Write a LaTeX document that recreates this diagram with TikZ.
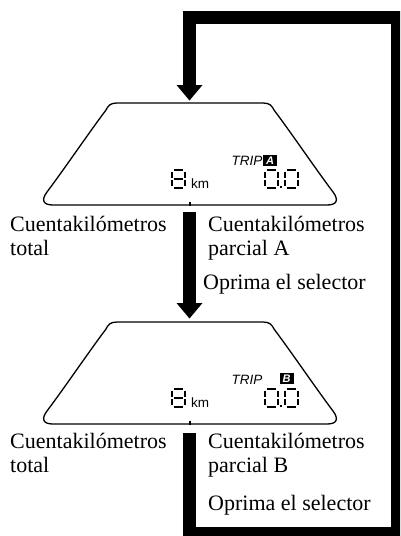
\documentclass[tikz,border=0pt]{standalone}
\usepackage{fontspec}
\setmainfont{Liberation Serif}
\newfontfamily\lcdsans{Liberation Sans}
\newcommand\lcdzero[2]{%
  \draw[seg] (#1+1.7,#2) -- (#1+11.3,#2)
             (#1+1.7,#2+18) -- (#1+11.3,#2+18)
             (#1,#2+1.7) -- (#1,#2+8.1)
             (#1,#2+9.9) -- (#1,#2+16.3)
             (#1+13,#2+1.7) -- (#1+13,#2+8.1)
             (#1+13,#2+9.9) -- (#1+13,#2+16.3);}
\newcommand\lcdeight[2]{%
  \lcdzero{#1}{#2}
  \draw[seg] (#1+1.7,#2+9) -- (#1+11.3,#2+9);}
\newcommand\panelshape[1]{%
  \draw[panel] (117,103+#1) -- (263,103+#1)
    .. controls (270,103+#1) and (272,106+#1) .. (274,110+#1)
    .. controls (292,134+#1) and (315,168+#1) .. (333,192+#1)
    .. controls (339,200+#1) and (337,205+#1) .. (327,205+#1)
    -- (53,205+#1)
    .. controls (43,205+#1) and (41,200+#1) .. (47,192+#1)
    .. controls (65,168+#1) and (88,134+#1) .. (106,110+#1)
    .. controls (108,106+#1) and (110,103+#1) .. (117,103+#1) -- cycle;
  \draw[panel] (190,201.5+#1) -- (190,206+#1);}
\begin{document}
\begin{tikzpicture}[x=1pt,y=-1pt,
  thickline/.style={line width=13pt, line join=miter},
  head/.style={fill=black},
  panel/.style={line width=1.3pt, line join=round},
  seg/.style={line width=1.8pt},
  lbl/.style={anchor=base west, inner sep=0pt, font=\fontsize{22}{24}\selectfont},
  trip/.style={anchor=base west, inner sep=0pt, font=\lcdsans\itshape\fontsize{13.5}{14}\selectfont},
  unit/.style={anchor=base west, inner sep=0pt, font=\lcdsans\fontsize{13.5}{14}\selectfont},
  tripbox/.style={fill=black, text=white, inner sep=0pt, minimum width=14pt, minimum height=11pt, font=\lcdsans\bfseries\itshape\fontsize{11}{11}\selectfont},
]
\useasboundingbox (0,0) rectangle (400,536);
\clip (0,0) rectangle (400,536);

% named points of the connectors
\coordinate (loopstart) at (189.5,433);
\coordinate (loopc1) at (189.5,533.5);
\coordinate (loopc2) at (397.5,533.5);
\coordinate (loopc3) at (397.5,17.5);
\coordinate (loopc4) at (189.5,17.5);
\coordinate (headA) at (189.5,85);
\coordinate (tipA) at (189.5,100.5);
\coordinate (midstart) at (189.5,212);
\coordinate (headB) at (189.5,303);
\coordinate (tipB) at (189.5,318.5);

% display panels
\panelshape{0}
\panelshape{219}

% upper display contents
\lcdeight{172}{170}
\node[unit] (kmA) at (191,188) {km};
\node[trip] (tripA) at (231.5,165) {TRIP};
\node[tripbox] (boxA) at (270,160.5) {A};
\lcdzero{265}{170}
\fill (280,186) rectangle (282.3,188.3);
\lcdzero{285}{170}

% lower display contents
\lcdeight{172}{389}
\node[unit] (kmB) at (191,407) {km};
\node[trip] (tripB) at (231.5,384) {TRIP};
\node[tripbox] (boxB) at (286.5,378.5) {B};
\lcdzero{265}{389}
\fill (280,405) rectangle (282.3,407.3);
\lcdzero{285}{389}

% thick connectors
\draw[thickline] (loopstart) -- (loopc1) -- (loopc2) -- (loopc3) -- (loopc4) -- (headA);
\fill[head] (headA) ++(-13,0) -- ++(26,0) -- (tipA) -- cycle;
\draw[thickline] (midstart) -- (headB);
\fill[head] (headB) ++(-13,0) -- ++(26,0) -- (tipB) -- cycle;

% texts
\node[lbl] (totA1) at (10,231) {Cuentakilómetros};
\node[lbl] (totA2) at (10,255) {total};
\node[lbl] (parA1) at (208,231) {Cuentakilómetros};
\node[lbl] (parA2) at (208,255) {parcial A};
\node[lbl] (pressA) at (203,289) {Oprima el selector};
\node[lbl] (totB1) at (10,448) {Cuentakilómetros};
\node[lbl] (totB2) at (10,472) {total};
\node[lbl] (parB1) at (208,448) {Cuentakilómetros};
\node[lbl] (parB2) at (208,472) {parcial B};
\node[lbl] (pressB) at (208,510) {Oprima el selector};
\end{tikzpicture}
\end{document}
